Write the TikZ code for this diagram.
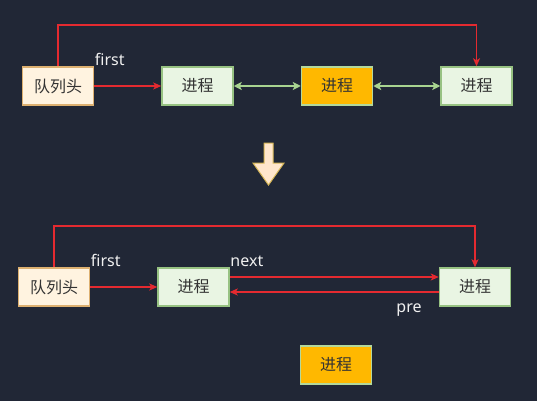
\documentclass[tikz,border=0pt]{standalone}
\usepackage{fontspec}
\setmainfont{Noto Sans}
\newfontfamily\cjk{Noto Sans CJK SC}
\usetikzlibrary{arrows,arrows.meta,positioning}
\definecolor{bgnavy}{HTML}{212736}
\definecolor{headfill}{HTML}{FFF3E0}
\definecolor{headline}{HTML}{DDB070}
\definecolor{procfill}{HTML}{E9F5E3}
\definecolor{procline}{HTML}{97C282}
\definecolor{busyfill}{HTML}{FFB800}
\definecolor{busyline}{HTML}{B3D89C}
\definecolor{linkred}{HTML}{E42A30}
\definecolor{linkgreen}{HTML}{A8D490}
\definecolor{downfill}{HTML}{FFE6CC}
\definecolor{downline}{HTML}{D6B656}

\begin{document}
\begin{tikzpicture}[x=1pt, y=-1pt, node distance=139.5pt]
    % Define styles
    \tikzstyle{headbox} = [rectangle, draw=headline, fill=headfill, line width=1.5pt, minimum width=71pt, minimum height=38pt, inner sep=0pt, text=black!80, font=\fontsize{16}{18}\selectfont\cjk]
    \tikzstyle{procbox} = [rectangle, draw=procline, fill=procfill, line width=1.5pt, minimum width=71pt, minimum height=38pt, inner sep=0pt, text=black!80, font=\fontsize{16}{18}\selectfont\cjk]
    \tikzstyle{busybox} = [procbox, draw=busyline, fill=busyfill]
    \tikzstyle{redarrow} = [draw=linkred, line width=1.3pt, -{Stealth[length=8pt,width=7pt,inset=2pt]}]
    \tikzstyle{linkarrow} = [draw=linkgreen, line width=1.8pt, {Stealth[length=8pt,width=8pt,inset=2pt]}-{Stealth[length=8pt,width=8pt,inset=2pt]}]
    \tikzstyle{lbl} = [text=white!94!black, inner sep=0.5pt, font=\fontsize{16}{18}\selectfont]

    % Background
    \fill[bgnavy] (0,0) rectangle (537,401);
    \useasboundingbox (0,0) rectangle (537,401);

    % Before: queue with running process in the middle
    \node [headbox] at (58,86) (headA) {队列头};
    \node [procbox, right of=headA] (procA) {进程};
    \node [busybox, right of=procA] (busyA) {进程};
    \node [procbox, right of=busyA] (lastA) {进程};
    \coordinate (railA) at (0,25);

    \draw [redarrow] (headA) -- (procA);
    \draw [linkarrow] (procA) -- (busyA);
    \draw [linkarrow] (busyA) -- (lastA);
    \draw [redarrow] (headA.north) -- (headA.north |- railA) -| (lastA.north);
    \node [lbl, anchor=south west] at (headA.north east) {first};

    % Down arrow
    \draw [downline, fill=downfill, line width=1pt] (264,143) -- (273,143) -- (273,163) -- (284,163) -- (268.5,185) -- (253,163) -- (264,163) -- cycle;

    % After: running process taken out
    \node [headbox] at (54,287) (headB) {队列头};
    \node [procbox, right of=headB] (procB) {进程};
    \node [procbox, right of=procB, node distance=281.5pt] (lastB) {进程};
    \node [busybox] at (336,365) (busyB) {进程};
    \coordinate (railB) at (0,226);

    \draw [redarrow] (headB) -- (procB);
    \draw [redarrow] (headB.north) -- (headB.north |- railB) -| (lastB.north);
    \draw [redarrow] ([yshift=10pt]procB.east) -- ([yshift=10pt]lastB.west);
    \draw [redarrow] ([yshift=-5pt]lastB.west) -- ([yshift=-5pt]procB.east);
    \node [lbl, anchor=south west] at (headB.north east) {first};
    \node [lbl, anchor=south west] at (procB.north east) {next};
    \node [lbl, anchor=base] at (409,312) {pre};
\end{tikzpicture}
\end{document}
